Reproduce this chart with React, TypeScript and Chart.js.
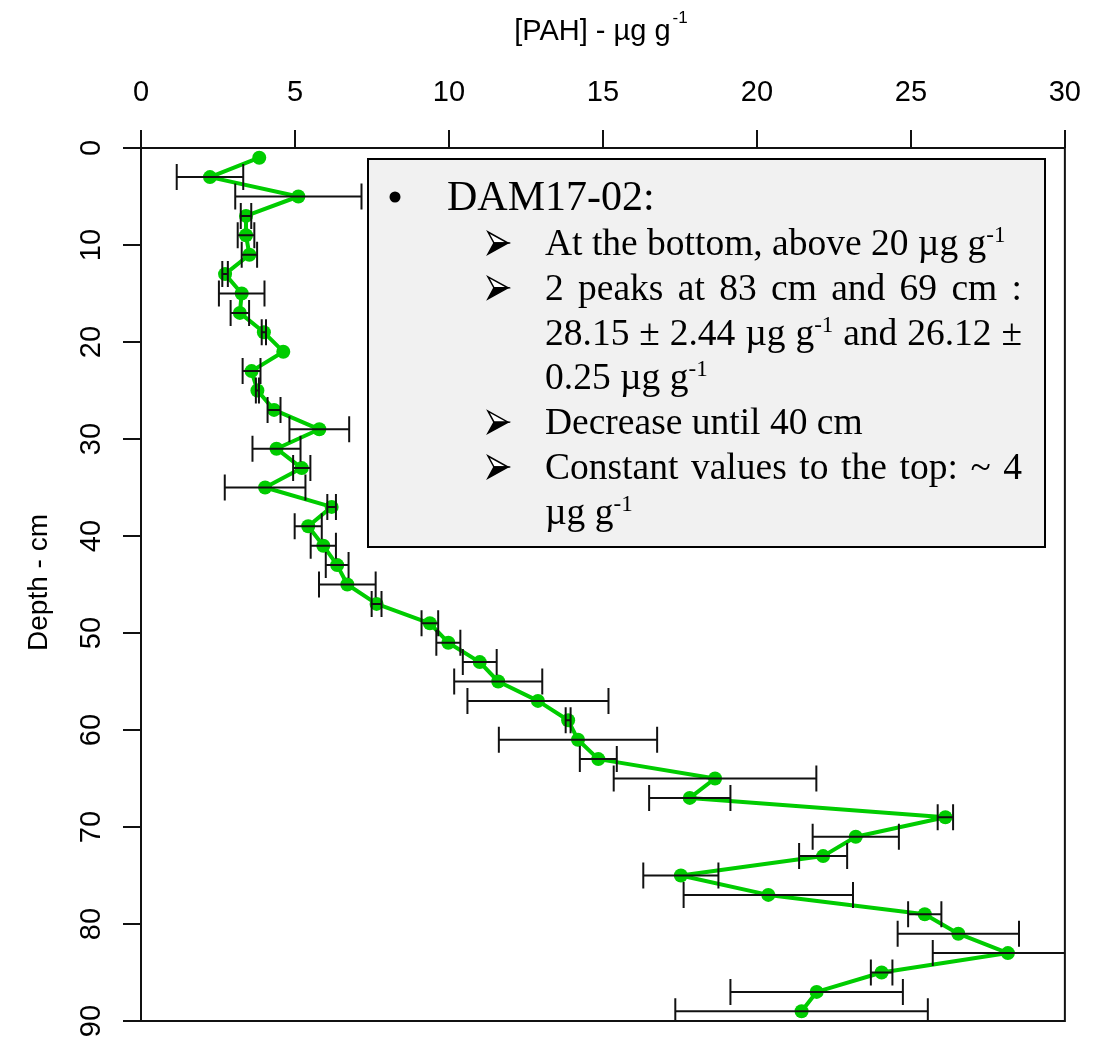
import React, { useEffect, useRef } from "react";
import { Chart, registerables } from "chart.js";

Chart.register(...registerables);

// Core depth (cm), PAH concentration (µg g-1) and its uncertainty
const depthCm = [
  1, 3, 5, 7, 9, 11, 13, 15, 17, 19, 21, 23, 25, 27, 29, 31, 33, 35, 37, 39, 41, 43, 45,
  47, 49, 51, 53, 55, 57, 59, 61, 63, 65, 67, 69, 71, 73, 75, 77, 79, 81, 83, 85, 87, 89,
];
const pahValues = [
  3.84, 2.24, 5.11, 3.41, 3.41, 3.52, 2.73, 3.27, 3.21, 3.99, 4.62, 3.59, 3.78, 4.32, 5.79,
  4.4, 5.22, 4.03, 6.19, 5.43, 5.92, 6.37, 6.7, 7.65, 9.38, 9.98, 11.0, 11.6, 12.89, 13.87,
  14.19, 14.85, 18.64, 17.82, 26.12, 23.21, 22.15, 17.53, 20.37, 25.45, 26.54, 28.15, 24.05,
  21.94, 21.45,
];
const pahErrors = [
  0, 1.08, 2.05, 0.17, 0.27, 0.25, 0.09, 0.74, 0.3, 0.07, 0, 0.29, 0.05, 0.21, 0.97, 0.78,
  0.28, 1.31, 0.14, 0.44, 0.41, 0.37, 0.92, 0.16, 0.27, 0.39, 0.55, 1.43, 2.29, 0.08, 2.57,
  0.6, 3.29, 1.32, 0.25, 1.4, 0.78, 1.22, 2.75, 0.54, 1.97, 2.44, 0.35, 2.8, 4.1,
];

// Axis ranges and steps
const xRange = [0, 30];
const xStep = 5;
const yRange = [0, 90];
const yStep = 10;

// Axis titles
const xTitle = "[PAH] - µg g";
const xTitleSup = "-1";
const yTitle = "Depth - cm";

// Annotation box text ("^" starts a superscript inside a word)
const noteHeading = "DAM17-02:";
const noteLines = [
  { arrow: true, justify: false, text: "At the bottom, above 20 µg g^-1" },
  { arrow: true, justify: true, text: "2 peaks at 83 cm and 69 cm :" },
  { arrow: false, justify: true, text: "28.15 ± 2.44 µg g^-1 and 26.12 ±" },
  { arrow: false, justify: false, text: "0.25 µg g^-1" },
  { arrow: true, justify: false, text: "Decrease until 40 cm" },
  { arrow: true, justify: true, text: "Constant values to the top: ~ 4" },
  { arrow: false, justify: false, text: "µg g^-1" },
];

const SANS = "'Liberation Sans', Arial, sans-serif";
const SERIF = "'Liberation Serif', 'Times New Roman', serif";
const INK = "#111111";
const GREEN = "#00CC00";

const framePlugin = {
  id: "frame",
  beforeDatasetsDraw(chart: any) {
    const { ctx, chartArea: a } = chart;
    ctx.save();
    ctx.strokeStyle = INK;
    ctx.lineWidth = 2;
    ctx.strokeRect(a.left, a.top, a.right - a.left, a.bottom - a.top);
    ctx.restore();
  },
};

const errorBarPlugin = {
  id: "errorBars",
  afterDatasetsDraw(chart: any) {
    const { ctx, chartArea: a, scales } = chart;
    const xs = scales.x;
    const ys = scales.y;
    ctx.save();
    ctx.beginPath();
    ctx.rect(a.left, a.top, a.right - a.left, a.bottom - a.top);
    ctx.clip();
    ctx.strokeStyle = INK;
    ctx.lineWidth = 2;
    depthCm.forEach((d, i) => {
      const e = pahErrors[i];
      if (!e) return;
      const y = ys.getPixelForValue(d);
      const x1 = xs.getPixelForValue(pahValues[i] - e);
      const x2 = xs.getPixelForValue(pahValues[i] + e);
      ctx.beginPath();
      ctx.moveTo(x1, y);
      ctx.lineTo(x2, y);
      ctx.moveTo(x1, y - 13);
      ctx.lineTo(x1, y + 13);
      ctx.moveTo(x2, y - 13);
      ctx.lineTo(x2, y + 13);
      ctx.stroke();
    });
    ctx.restore();
  },
};

const axisTextPlugin = {
  id: "axisText",
  afterDraw(chart: any) {
    const { ctx, chartArea: a, scales } = chart;
    const ys = scales.y;
    ctx.save();
    ctx.fillStyle = "#000";

    // rotated depth tick labels
    ctx.font = `29px ${SANS}`;
    ctx.textAlign = "center";
    ctx.textBaseline = "alphabetic";
    ys.ticks.forEach((t: any) => {
      const y = ys.getPixelForValue(t.value);
      ctx.save();
      ctx.translate(100, y);
      ctx.rotate(-Math.PI / 2);
      ctx.fillText(String(t.value), 0, 0);
      ctx.restore();
    });

    // y title
    ctx.save();
    ctx.font = `28px ${SANS}`;
    ctx.translate(47, (a.top + a.bottom) / 2 - 2);
    ctx.rotate(-Math.PI / 2);
    ctx.fillText(yTitle, 0, 0);
    ctx.restore();

    // x title with superscript
    ctx.textAlign = "left";
    ctx.font = `29px ${SANS}`;
    const wMain = ctx.measureText(xTitle).width;
    ctx.font = `17px ${SANS}`;
    const wSup = ctx.measureText(xTitleSup).width;
    const cx = (a.left + a.right) / 2 - 2;
    const x0 = cx - (wMain + wSup + 2) / 2;
    ctx.font = `29px ${SANS}`;
    ctx.fillText(xTitle, x0, 40);
    ctx.font = `17px ${SANS}`;
    ctx.fillText(xTitleSup, x0 + wMain + 2, 23);
    ctx.restore();
  },
};

const MAIN_FONT = `37.5px ${SERIF}`;
const SUP_FONT = `23px ${SERIF}`;

function splitWord(w: string) {
  const k = w.indexOf("^");
  return k < 0 ? { base: w, sup: "" } : { base: w.slice(0, k), sup: w.slice(k + 1) };
}

function wordWidth(ctx: CanvasRenderingContext2D, w: string) {
  const { base, sup } = splitWord(w);
  ctx.font = MAIN_FONT;
  let width = ctx.measureText(base).width;
  if (sup) {
    ctx.font = SUP_FONT;
    width += ctx.measureText(sup).width;
  }
  return width;
}

function drawWord(ctx: CanvasRenderingContext2D, w: string, x: number, baseline: number) {
  const { base, sup } = splitWord(w);
  ctx.font = MAIN_FONT;
  ctx.fillText(base, x, baseline);
  if (sup) {
    const bw = ctx.measureText(base).width;
    ctx.font = SUP_FONT;
    ctx.fillText(sup, x + bw, baseline - 13);
  }
}

function drawArrowhead(ctx: CanvasRenderingContext2D, x: number, cy: number) {
  const w = 20;
  const h = 11;
  const notch = 6;
  ctx.save();
  ctx.lineWidth = 1.5;
  ctx.strokeStyle = "#000";
  ctx.lineJoin = "miter";
  // upper (lit) half
  ctx.beginPath();
  ctx.moveTo(x, cy - h);
  ctx.lineTo(x + w, cy);
  ctx.lineTo(x + notch, cy);
  ctx.closePath();
  ctx.fillStyle = "#ffffff";
  ctx.fill();
  ctx.stroke();
  // lower (shaded) half
  ctx.beginPath();
  ctx.moveTo(x + notch, cy);
  ctx.lineTo(x + w, cy);
  ctx.lineTo(x, cy + h);
  ctx.closePath();
  ctx.fillStyle = "#000";
  ctx.fill();
  ctx.stroke();
  ctx.restore();
}

const notePlugin = {
  id: "noteBox",
  afterDraw(chart: any) {
    const ctx: CanvasRenderingContext2D = chart.ctx;
    const box = { left: 368, top: 159, right: 1045, bottom: 547 };
    ctx.save();
    ctx.fillStyle = "#F1F1F1";
    ctx.fillRect(box.left, box.top, box.right - box.left, box.bottom - box.top);
    ctx.strokeStyle = "#000";
    ctx.lineWidth = 2;
    ctx.strokeRect(box.left, box.top, box.right - box.left, box.bottom - box.top);

    ctx.fillStyle = "#000";
    ctx.textAlign = "left";
    ctx.textBaseline = "alphabetic";

    // heading bullet
    ctx.beginPath();
    ctx.arc(395, 197, 5.5, 0, Math.PI * 2);
    ctx.fill();
    ctx.font = `42px ${SERIF}`;
    ctx.fillText(noteHeading, 447, 210);

    const textLeft = 545;
    const textRight = 1022;
    noteLines.forEach((line, i) => {
      const baseline = 255 + i * 44.8;
      if (line.arrow) drawArrowhead(ctx, 488, baseline - 12);
      const words = line.text.split(" ");
      const widths = words.map((w) => wordWidth(ctx, w));
      ctx.font = MAIN_FONT;
      let gap = ctx.measureText(" ").width;
      if (line.justify && words.length > 1) {
        const total = widths.reduce((s, v) => s + v, 0);
        gap = (textRight - textLeft - total) / (words.length - 1);
      }
      let x = textLeft;
      words.forEach((w, k) => {
        drawWord(ctx, w, x, baseline);
        x += widths[k] + gap;
      });
    });
    ctx.restore();
  },
};

export default function App() {
  const canvasRef = useRef<HTMLCanvasElement | null>(null);

  useEffect(() => {
    const canvas = canvasRef.current;
    if (!canvas) return;
    const tickGrid = {
      drawOnChartArea: false,
      drawTicks: true,
      tickLength: 18,
      color: INK,
      lineWidth: 2,
    };
    const chart = new Chart(canvas, {
      type: "line",
      data: {
        datasets: [
          {
            data: depthCm.map((d, i) => ({ x: pahValues[i], y: d })),
            borderColor: GREEN,
            backgroundColor: GREEN,
            pointBackgroundColor: GREEN,
            pointBorderColor: GREEN,
            borderWidth: 4,
            borderJoinStyle: "round",
            borderCapStyle: "round",
            pointRadius: 7,
            pointBorderWidth: 0,
            tension: 0,
          },
        ],
      },
      options: {
        indexAxis: "y",
        animation: false,
        responsive: false,
        events: [],
        layout: { padding: { top: 0, left: 0, right: 36, bottom: 24 } },
        plugins: {
          legend: { display: false },
          tooltip: { enabled: false },
          title: { display: false },
        },
        scales: {
          x: {
            type: "linear",
            position: "top",
            min: xRange[0],
            max: xRange[1],
            ticks: {
              stepSize: xStep,
              color: "#000",
              padding: 20,
              font: { family: SANS, size: 29 },
            },
            grid: tickGrid,
            border: { display: false },
            afterFit: (s: any) => {
              s.height = 148;
            },
          },
          y: {
            type: "linear",
            position: "left",
            reverse: true,
            min: yRange[0],
            max: yRange[1],
            ticks: { stepSize: yStep, display: false },
            grid: tickGrid,
            border: { display: false },
            afterFit: (s: any) => {
              s.width = 141;
            },
          },
        },
      } as any,
      plugins: [framePlugin, errorBarPlugin, axisTextPlugin, notePlugin],
    });
    return () => chart.destroy();
  }, []);

  return (
    <div style={{ position: "absolute", left: 0, top: 0, width: 1101, height: 1045, background: "#fff" }}>
      <canvas ref={canvasRef} width={1101} height={1045} style={{ display: "block" }} />
    </div>
  );
}
